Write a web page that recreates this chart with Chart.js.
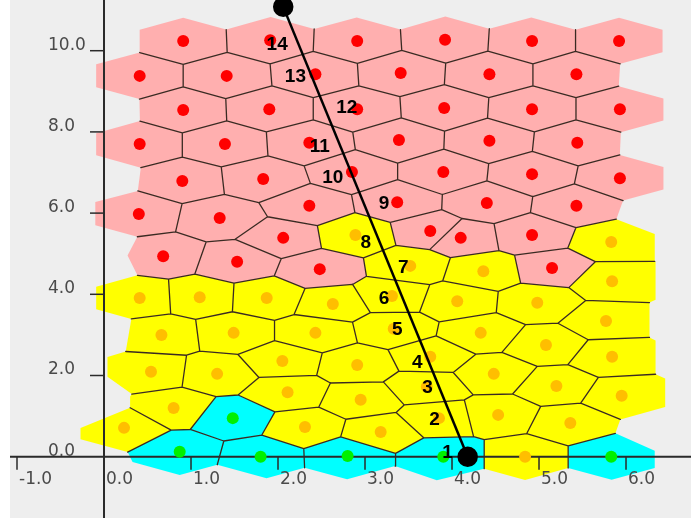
<!DOCTYPE html>
<html>
<head>
<meta charset="utf-8">
<script src="https://cdn.jsdelivr.net/npm/chart.js"></script>
<style>
  html, body { margin: 0; padding: 0; background: #ffffff; }
</style>
</head>
<body>
<canvas id="voronoiChart" width="691" height="518"></canvas>
<script>
// sites of the three regions (data units)
var pinkX = [0.91, 1.91, 2.91, 3.92, 4.92, 5.92,
             0.41, 1.41, 2.43, 3.41, 4.43, 5.43,
             0.91, 1.90, 2.91, 3.91, 4.92, 5.93,
             0.41, 1.39, 2.36, 3.39, 4.43, 5.44,
             0.90, 1.83, 2.85, 3.90, 4.92, 5.93,
             0.40, 1.33, 2.36, 3.37, 4.40, 5.43,
             0.68, 1.53, 2.06, 2.48, 3.75, 4.10, 4.92, 5.15];
var pinkY = [10.24, 10.26, 10.24, 10.27, 10.24, 10.24,
             9.38, 9.38, 9.42, 9.45, 9.42, 9.42,
             8.54, 8.56, 8.56, 8.59, 8.56, 8.56,
             7.70, 7.70, 7.73, 7.80, 7.78, 7.73,
             6.79, 6.84, 7.01, 7.01, 6.96, 6.86,
             5.98, 5.88, 6.18, 6.27, 6.25, 6.18,
             4.94, 4.80, 5.39, 4.62, 5.56, 5.39, 5.46, 4.65];

var yellowX = [2.89, 5.83, 3.52, 4.36, 5.84,
               0.41, 1.10, 1.87, 2.63, 3.31, 4.06, 4.98, 5.77,
               0.66, 1.49, 2.43, 3.33, 4.33, 5.08, 5.84,
               0.54, 1.30, 2.05, 2.91, 3.75, 4.48, 5.20, 5.95,
               0.80, 2.11, 2.95, 3.71, 4.53, 5.36,
               0.23, 2.31, 3.18, 3.85, 4.84];
var yellowY = [5.46, 5.29, 4.70, 4.57, 4.32,
               3.91, 3.93, 3.91, 3.76, 3.96, 3.83, 3.79, 3.34,
               3.00, 3.05, 3.05, 3.15, 3.05, 2.75, 2.46,
               2.09, 2.04, 2.36, 2.26, 2.46, 2.04, 1.74, 1.50,
               1.20, 1.59, 1.40, 1.72, 1.03, 0.83,
               0.71, 0.73, 0.61, 0.95, 0.00];

var cyanX = [0.87, 1.48, 1.80, 2.80, 3.90, 5.83];
var cyanY = [0.12, 0.95, 0.00, 0.02, 0.00, 0.00];

// numbered cells along the path
var labelText = ['1', '2', '3', '4', '5', '6', '7', '8', '9', '10', '11', '12', '13', '14'];
var labelX = [3.95, 3.80, 3.72, 3.60, 3.37, 3.22, 3.44, 3.01, 3.22, 2.63, 2.48, 2.79, 2.20, 1.99];
var labelY = [0.09, 0.90, 1.69, 2.31, 3.12, 3.88, 4.65, 5.26, 6.22, 6.86, 7.63, 8.59, 9.35, 10.14];

var pathX = [4.18, 2.06];
var pathY = [0.0, 11.08];

var xTicks = [-1, 0, 1, 2, 3, 4, 5, 6];
var yTicks = [0, 2, 4, 6, 8, 10];

var cellColors = ['#ffafaf', '#ffff00', '#00ffff'];
var dotColors = ['#ff0000', '#ffbe00', '#00f000'];

// collect the sites
var sites = [];
function addSites(xs, ys, kind) {
    for (var i = 0; i < xs.length; i++) sites.push({ x: xs[i], y: ys[i], kind: kind });
}
addSites(pinkX, pinkY, 0);
addSites(yellowX, yellowY, 1);
addSites(cyanX, cyanY, 2);

// ghost sites continue the lattice around the outside so border cells close up
var H = 0.85;
var dirs = [[1, 0], [-1, 0], [0.5, H], [-0.5, H], [0.5, -H], [-0.5, -H]];
var allPts = sites.map(function (s) { return [s.x, s.y]; });
var nReal = allPts.length;
sites.forEach(function (s) {
    dirs.forEach(function (d) {
        var cx = s.x + d[0], cy = s.y + d[1];
        var taken = allPts.some(function (p, k) {
            var r = k < nReal ? 0.62 : 0.35;
            return Math.hypot(p[0] - cx, p[1] - cy) < r;
        });
        if (!taken) allPts.push([cx, cy]);
    });
});

// keep a*x + b*y <= c, every vertex carries the tag of its outgoing edge
function clipPoly(poly, a, b, c, tag) {
    var out = [];
    var n = poly.length;
    for (var k = 0; k < n; k++) {
        var P = poly[k], Q = poly[(k + 1) % n];
        var fp = a * P.x + b * P.y - c, fq = a * Q.x + b * Q.y - c;
        if (fp <= 0) out.push({ x: P.x, y: P.y, t: P.t });
        if ((fp <= 0) !== (fq <= 0)) {
            var r = fp / (fp - fq);
            out.push({ x: P.x + r * (Q.x - P.x), y: P.y + r * (Q.y - P.y), t: fp <= 0 ? tag : P.t });
        }
    }
    return out;
}

var cells = [];
var edgePts = [];
for (var i = 0; i < nReal; i++) {
    var sx = allPts[i][0], sy = allPts[i][1];
    var poly = [{ x: sx - 2, y: sy - 2, t: -1 }, { x: sx + 2, y: sy - 2, t: -1 },
                { x: sx + 2, y: sy + 2, t: -1 }, { x: sx - 2, y: sy + 2, t: -1 }];
    for (var j = 0; j < allPts.length; j++) {
        if (j === i) continue;
        var qx = allPts[j][0], qy = allPts[j][1];
        if (Math.hypot(qx - sx, qy - sy) > 3.5) continue;
        poly = clipPoly(poly, 2 * (qx - sx), 2 * (qy - sy), qx * qx + qy * qy - sx * sx - sy * sy, j);
    }
    cells.push(poly);
    for (var k = 0; k < poly.length; k++) {
        var p = poly[k], q = poly[(k + 1) % poly.length];
        if (p.t > i && p.t < nReal) {
            edgePts.push({ x: p.x, y: p.y }, { x: q.x, y: q.y }, { x: null, y: null });
        }
    }
}

var datasets = [];
cells.forEach(function (poly, i) {
    datasets.push({
        type: 'line',
        data: poly.map(function (p) { return { x: p.x, y: p.y }; }),
        fill: 'shape',
        backgroundColor: cellColors[sites[i].kind],
        borderColor: 'rgba(0,0,0,0)',
        borderWidth: 0,
        pointRadius: 0,
        order: 10
    });
});
datasets.push({
    type: 'line',
    isEdges: true,
    data: edgePts,
    borderColor: '#3a2a22',
    borderWidth: 1.3,
    borderCapStyle: 'round',
    spanGaps: false,
    fill: false,
    pointRadius: 0,
    order: 5
});
[0, 1, 2].forEach(function (kind) {
    datasets.push({
        type: 'line',
        showLine: false,
        data: sites.filter(function (s) { return s.kind === kind; })
                   .map(function (s) { return { x: s.x, y: s.y }; }),
        pointRadius: 6,
        pointBackgroundColor: dotColors[kind],
        pointBorderColor: 'rgba(0,0,0,0)',
        pointBorderWidth: 0,
        order: 3
    });
});
datasets.push({
    type: 'line',
    data: pathX.map(function (x, i) { return { x: x, y: pathY[i] }; }),
    borderColor: '#000000',
    borderWidth: 2.5,
    pointRadius: 9,
    pointBackgroundColor: '#000000',
    pointBorderColor: '#000000',
    fill: false,
    clip: false,
    order: 1
});

var backgroundPlugin = {
    id: 'panelBackground',
    beforeDraw: function (chart) {
        var ctx = chart.ctx, a = chart.chartArea;
        ctx.save();
        ctx.fillStyle = '#ffffff';
        ctx.fillRect(0, 0, chart.width, chart.height);
        ctx.fillStyle = '#eeeeee';
        ctx.fillRect(a.left, a.top, a.right - a.left, a.bottom - a.top);
        ctx.restore();
    }
};

// axes cross at the origin, drawn over the cells
var axesPlugin = {
    id: 'crossAxes',
    afterDatasetDraw: function (chart, args) {
        if (!chart.data.datasets[args.index].isEdges) return;
        var ctx = chart.ctx, a = chart.chartArea;
        var xs = chart.scales.x, ys = chart.scales.y;
        var x0 = xs.getPixelForValue(0), y0 = ys.getPixelForValue(0);
        ctx.save();
        ctx.strokeStyle = '#2a2a2a';
        ctx.lineWidth = 2;
        ctx.beginPath();
        ctx.moveTo(a.left, y0); ctx.lineTo(a.right, y0);
        ctx.moveTo(x0, a.top); ctx.lineTo(x0, a.bottom);
        ctx.stroke();
        ctx.lineWidth = 1.5;
        ctx.font = '17px "DejaVu Sans"';
        ctx.fillStyle = '#4a4a4a';
        ctx.textAlign = 'left';
        ctx.textBaseline = 'alphabetic';
        xTicks.forEach(function (v) {
            var px = xs.getPixelForValue(v);
            if (v !== 0) {
                ctx.beginPath(); ctx.moveTo(px, y0); ctx.lineTo(px, y0 + 13); ctx.stroke();
            }
            ctx.fillText(v.toFixed(1), px + 2, y0 + 27);
        });
        yTicks.forEach(function (v) {
            var py = ys.getPixelForValue(v);
            if (v !== 0) {
                ctx.beginPath(); ctx.moveTo(x0 - 14, py); ctx.lineTo(x0, py); ctx.stroke();
            }
            ctx.fillText(v.toFixed(1), 48, py - 1);
        });
        ctx.restore();
    }
};

var labelPlugin = {
    id: 'cellNumbers',
    afterDatasetsDraw: function (chart) {
        var ctx = chart.ctx;
        ctx.save();
        ctx.font = 'bold 19px "Liberation Sans", Arial, sans-serif';
        ctx.fillStyle = '#000000';
        ctx.textAlign = 'center';
        ctx.textBaseline = 'middle';
        labelText.forEach(function (t, i) {
            ctx.fillText(t, chart.scales.x.getPixelForValue(labelX[i]), chart.scales.y.getPixelForValue(labelY[i]));
        });
        ctx.restore();
    }
};

var ctx = document.getElementById('voronoiChart').getContext('2d');
var voronoiChart = new Chart(ctx, {
    type: 'line',
    data: { datasets: datasets },
    options: {
        responsive: false,
        animation: false,
        events: [],
        layout: { autoPadding: false, padding: { left: 10, right: 0, top: 0, bottom: 0 } },
        plugins: {
            legend: { display: false },
            tooltip: { enabled: false }
        },
        scales: {
            x: { type: 'linear', display: false, min: -1.0805, max: 6.747 },
            y: { type: 'linear', display: false, min: -1.51, max: 11.249 }
        }
    },
    plugins: [backgroundPlugin, axesPlugin, labelPlugin]
});
</script>
</body>
</html>
